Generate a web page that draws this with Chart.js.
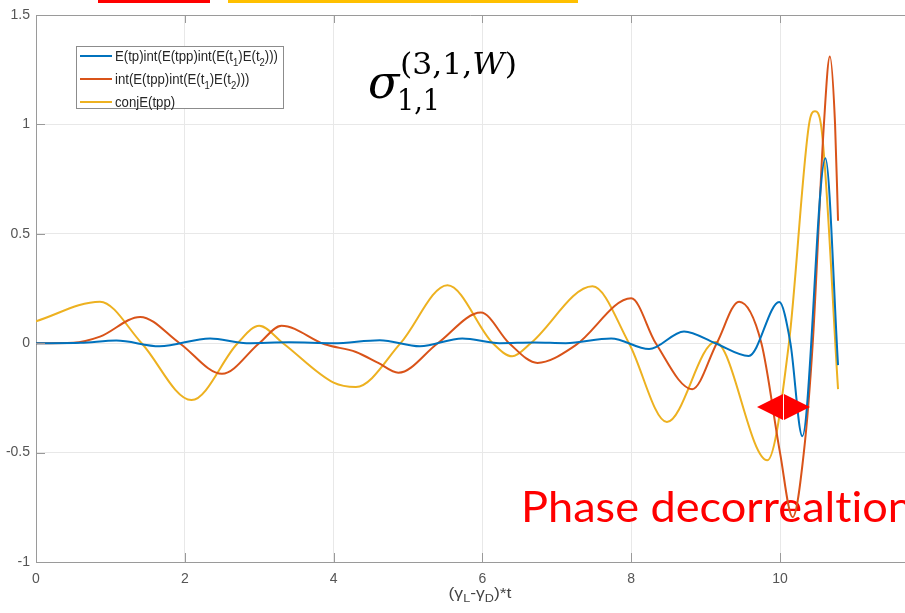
<!DOCTYPE html>
<html>
<head>
<meta charset="utf-8">
<script src="https://cdn.jsdelivr.net/npm/chart.js@4.4.1/dist/chart.umd.min.js"></script>
<style>
  html, body { margin: 0; padding: 0; background: #fff; }
</style>
</head>
<body>
<canvas id="myChart" width="905" height="613"></canvas>
<script>
// tick labels
const xTicks = [0, 2, 4, 6, 8, 10];
const yTicks = [-1, -0.5, 0, 0.5, 1, 1.5];

// series names and colours (MATLAB defaults)
const seriesNames = ['E(tp)int(E(tpp)int(E(t₁)E(t₂)))', 'int(E(tpp)int(E(t₁)E(t₂)))', 'conjE(tpp)'];
const seriesColors = ['#0072BD', '#D95319', '#EDB120'];

// values
const blueX = [0, 0.6, 1.08, 1.66, 2.34, 2.83, 3.4, 4.0, 4.62, 5.16, 5.73, 6.23, 6.7, 7.12, 7.73, 8.24, 8.71, 9.13, 9.58, 9.99, 10.14, 10.3, 10.61, 10.78];
const blueY = [0, 0.002, 0.012, -0.014, 0.022, 0.0, 0.004, 0.0, 0.014, -0.014, 0.022, 0.0, 0.003, 0.0, 0.022, -0.027, 0.054, 0.0, -0.058, 0.188, 0.0, -0.425, 0.845, -0.10];

const orangeX = [0, 0.5, 0.86, 1.40, 1.93, 2.5, 3.0, 3.3, 3.88, 4.3, 4.6, 4.87, 5.4, 5.98, 6.36, 6.74, 7.25, 8.0, 8.33, 8.82, 9.15, 9.45, 9.75, 10.0, 10.17, 10.32, 10.44, 10.59, 10.67, 10.74, 10.78];
const orangeY = [0, 0.002, 0.03, 0.12, 0, -0.14, 0, 0.08, -0.005, -0.04, -0.09, -0.135, 0, 0.14, 0, -0.09, -0.01, 0.205, 0, -0.21, 0, 0.19, 0, -0.5, -0.795, -0.5, 0, 1.0, 1.31, 1.0, 0.56];

const yellowX = [0, 0.86, 1.42, 2.09, 2.71, 3.0, 3.32, 4.0, 4.3, 4.9, 5.53, 6.14, 6.4, 6.65, 7.48, 7.97, 8.48, 9.13, 9.83, 10.12, 10.39, 10.47, 10.55, 10.78];
const yellowY = [0.10, 0.19, 0, -0.26, 0, 0.08, 0, -0.18, -0.20, 0, 0.265, 0, -0.06, 0, 0.26, 0, -0.36, 0.005, -0.535, 0, 1.0, 1.06, 1.0, -0.21];

const toPoints = (xs, ys) => xs.map((x, i) => ({x: x, y: ys[i]}));

const axisColor = '#9a9a9a';
const sansFont = '"Liberation Sans", Arial, sans-serif';

// text with subscripts: parts = [[text, isSub], ...]
function splitSubs(str) {
  const subs = '₀₁₂₃₄₅₆₇₈₉';
  const parts = [];
  for (const ch of str) {
    const k = subs.indexOf(ch);
    const sub = k >= 0;
    const c = sub ? String(k) : ch;
    if (parts.length && parts[parts.length - 1][1] === sub) parts[parts.length - 1][0] += c;
    else parts.push([c, sub]);
  }
  return parts;
}
function richWidth(ctx, parts, size) {
  let w = 0;
  parts.forEach(p => {
    ctx.font = (p[1] ? size * 0.72 : size) + 'px ' + sansFont;
    w += ctx.measureText(p[0]).width;
  });
  return w;
}
function drawRich(ctx, parts, x, y, size, sx) {
  ctx.save();
  ctx.translate(x, y);
  ctx.scale(sx, 1);
  ctx.textBaseline = 'alphabetic';
  ctx.textAlign = 'left';
  let cx = 0;
  parts.forEach(p => {
    ctx.font = (p[1] ? size * 0.72 : size) + 'px ' + sansFont;
    ctx.fillText(p[0], cx, p[1] ? size * 0.3 : 0);
    cx += ctx.measureText(p[0]).width;
  });
  ctx.restore();
}

const decor = {
  id: 'decor',
  beforeDatasetsDraw(chart) {
    const ctx = chart.ctx;
    // red annotation text (ZWNJ keeps "t" and "i" apart, no ligature)
    ctx.save();
    ctx.font = '42px Lato';
    const txt = 'Phase decorrealt\u200Cion';
    const w = ctx.measureText(txt).width;
    ctx.translate(521, 522);
    ctx.scale(392 / w, 1);
    ctx.fillStyle = '#ff0000';
    ctx.textBaseline = 'alphabetic';
    ctx.fillText(txt, 0, 0);
    ctx.restore();
  },
  afterDraw(chart) {
    const ctx = chart.ctx;
    const a = chart.chartArea;
    const xs = chart.scales.x, ys = chart.scales.y;

    // top box line and inward ticks
    ctx.save();
    ctx.strokeStyle = axisColor;
    ctx.lineWidth = 1;
    ctx.beginPath();
    ctx.moveTo(a.left, a.top + 0.5);
    ctx.lineTo(a.right, a.top + 0.5);
    xTicks.forEach(v => {
      const px = Math.round(xs.getPixelForValue(v)) + 0.5;
      ctx.moveTo(px, a.bottom); ctx.lineTo(px, a.bottom - 9);
      ctx.moveTo(px, a.top); ctx.lineTo(px, a.top + 8);
    });
    yTicks.forEach(v => {
      const py = Math.round(ys.getPixelForValue(v)) + 0.5;
      ctx.moveTo(a.left, py); ctx.lineTo(a.left + 9, py);
    });
    ctx.stroke();
    ctx.restore();

    // coloured bars at the very top
    ctx.fillStyle = '#ff0000';
    ctx.fillRect(98, 0, 112, 3);
    ctx.fillStyle = '#ffc000';
    ctx.fillRect(228, 0, 350, 3);

    // legend box
    ctx.save();
    ctx.fillStyle = '#fff';
    ctx.fillRect(76, 46, 208, 63);
    ctx.strokeStyle = '#8c8c8c';
    ctx.lineWidth = 1;
    ctx.strokeRect(76.5, 46.5, 207, 62);
    const legSize = 15;
    const first = splitSubs(seriesNames[0]);
    const legSx = 163 / richWidth(ctx, first, legSize);
    chart.data.datasets.forEach((ds, i) => {
      const cy = 56 + i * 23;
      ctx.strokeStyle = ds.borderColor;
      ctx.lineWidth = 2;
      ctx.beginPath();
      ctx.moveTo(80, cy); ctx.lineTo(112, cy);
      ctx.stroke();
      ctx.fillStyle = '#262626';
      drawRich(ctx, splitSubs(ds.label), 115, cy + 5, legSize, legSx);
    });
    ctx.restore();

    // sigma label
    ctx.save();
    ctx.fillStyle = '#000';
    ctx.textBaseline = 'alphabetic';
    ctx.font = 'italic 46px "DejaVu Serif"';
    ctx.fillText('σ', 368, 98);
    const supParts = [['(3,1,', ''], ['W', 'italic '], [')', '']];
    let supW = 0;
    supParts.forEach(p => { ctx.font = p[1] + '29px "DejaVu Serif"'; supW += ctx.measureText(p[0]).width; });
    const supSx = 117 / supW;
    ctx.translate(400, 74);
    ctx.scale(supSx, 1);
    let cx = 0;
    supParts.forEach(p => {
      ctx.font = p[1] + '29px "DejaVu Serif"';
      ctx.fillText(p[0], cx, 0);
      cx += ctx.measureText(p[0]).width;
    });
    ctx.restore();
    ctx.save();
    ctx.font = '29px "DejaVu Serif"';
    const subW = ctx.measureText('1,1').width;
    ctx.translate(397, 110);
    ctx.scale(43 / subW, 1);
    ctx.fillStyle = '#000';
    ctx.fillText('1,1', 0, 0);
    ctx.restore();

    // double arrow
    ctx.save();
    ctx.fillStyle = '#ff0000';
    ctx.beginPath();
    ctx.moveTo(757, 407); ctx.lineTo(783, 394); ctx.lineTo(783, 420); ctx.closePath();
    ctx.moveTo(810, 407); ctx.lineTo(784, 394); ctx.lineTo(784, 420); ctx.closePath();
    ctx.fill();
    ctx.restore();

    // x axis title with subscripts
    ctx.save();
    ctx.fillStyle = '#444';
    const title = [['(γ', false], ['L', true], ['-γ', false], ['D', true], [')*t', false]];
    const tw = richWidth(ctx, title, 14);
    const tsx = 63 / tw;
    drawRich(ctx, title, 480 - 63 / 2, 598, 14, tsx);
    ctx.restore();
  }
};

const ctx = document.getElementById('myChart');

new Chart(ctx, {
  type: 'line',
  data: {
    datasets: [
      {label: seriesNames[0], data: toPoints(blueX, blueY), borderColor: seriesColors[0]},
      {label: seriesNames[1], data: toPoints(orangeX, orangeY), borderColor: seriesColors[1]},
      {label: seriesNames[2], data: toPoints(yellowX, yellowY), borderColor: seriesColors[2]}
    ]
  },
  options: {
    responsive: false,
    animation: false,
    layout: {padding: {top: 15, left: 0, right: 0, bottom: 0}},
    elements: {
      point: {radius: 0},
      line: {borderWidth: 2, cubicInterpolationMode: 'monotone', fill: false}
    },
    plugins: {
      legend: {display: false},
      tooltip: {enabled: false}
    },
    scales: {
      x: {
        type: 'linear',
        min: 0,
        max: 11.68,
        afterBuildTicks: s => { s.ticks = xTicks.map(v => ({value: v})); },
        afterFit: s => { s.height = 51; },
        grid: {color: '#e8e8e8', drawTicks: false},
        border: {color: axisColor, width: 1},
        ticks: {
          padding: 9,
          color: '#555',
          maxRotation: 0,
          font: {family: sansFont, size: 14}
        }
      },
      y: {
        min: -1,
        max: 1.5,
        afterBuildTicks: s => { s.ticks = yTicks.map(v => ({value: v})); },
        afterFit: s => { s.width = 36; },
        grid: {color: '#e8e8e8', drawTicks: false},
        border: {color: axisColor, width: 1},
        ticks: {
          padding: 6,
          color: '#555',
          font: {family: sansFont, size: 14},
          callback: v => String(v)
        }
      }
    }
  },
  plugins: [decor]
});
</script>
</body>
</html>
